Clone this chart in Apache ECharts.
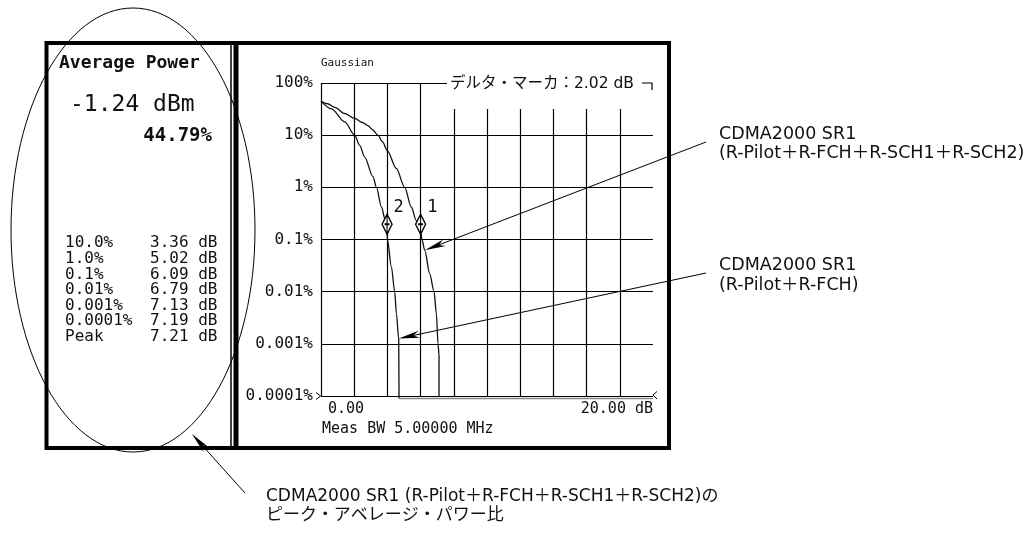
<!DOCTYPE html>
<html>
<head>
<meta charset="utf-8">
<title>CCDF</title>
<script src="https://cdn.jsdelivr.net/npm/echarts@6/dist/echarts.min.js"></script>
<style>
html, body { margin: 0; padding: 0; background: #fff; }
#chart { width: 1026px; height: 537px; }
</style>
</head>
<body>
<div id="chart"></div>
<script>
// 目盛りラベル
var xTickLabels = ['0.00', '20.00 dB'];
var yTickLabels = ['0.0001%', '0.001%', '0.01%', '0.1%', '1%', '10%', '100%'];

// CCDF [dB, %]  R-Pilot+R-FCH+R-SCH1+R-SCH2
var fullCurve = [[0, 45], [0.4, 40], [0.83, 34], [1.43, 26], [2.03, 21], [2.5, 17.5], [2.83, 15.2],
  [3.1, 12.8], [3.43, 10], [3.7, 7.5], [4.0, 5], [4.54, 2.3], [5.04, 1], [5.44, 0.42], [5.74, 0.23],
  [6.0, 0.15], [6.08, 0.1], [6.25, 0.062], [6.55, 0.022], [6.81, 0.01], [6.95, 0.0038],
  [7.05, 0.001], [7.11, 0.0006], [7.11, 0.0001]];
// CCDF [dB, %]  R-Pilot+R-FCH
var pilotCurve = [[0, 45], [0.63, 32], [1.43, 18], [2.03, 10], [2.33, 6.4], [2.63, 3.8], [3.13, 1.6],
  [3.34, 1], [3.64, 0.42], [3.88, 0.23], [3.98, 0.15], [4.0, 0.1], [4.24, 0.03], [4.44, 0.01],
  [4.54, 0.0038], [4.68, 0.00126], [4.7, 0.00009]];
var floorLine = [[4.7, 0.00009], [20, 0.00009]];
// マーカー
var markerPoints = [{ name: '2', value: [3.98, 0.196] }, { name: '1', value: [6.0, 0.196] }];
// 矢印の先
var arrowTargets = [[6.25, 0.062], [4.68, 0.00126]];

// 左パネルの表
var avgPower = '-1.24 dBm';
var avgPct = '44.79%';
var probLabels = ['10.0%', '1.0%', '0.1%', '0.01%', '0.001%', '0.0001%', 'Peak'];
var probValues = ['3.36 dB', '5.02 dB', '6.09 dB', '6.79 dB', '7.13 dB', '7.19 dB', '7.21 dB'];

var MONO = '"DejaVu Sans Mono", "Liberation Mono", monospace';
var JP = '"DejaVu Sans", "Noto Sans CJK JP", sans-serif';

var chart = echarts.init(document.getElementById('chart'));

var option = {
  animation: false,
  backgroundColor: '#fff',
  grid: { left: 321, top: 83, width: 332, height: 313 },
  xAxis: {
    type: 'value', min: 0, max: 20, interval: 2,
    axisLine: { show: false }, axisTick: { show: false },
    splitLine: { show: true, showMaxLine: false, lineStyle: { color: '#000', width: 1.2 } },
    axisLabel: {
      margin: 6, color: '#111', fontFamily: MONO, fontSize: 15,
      alignMinLabel: 'left', alignMaxLabel: 'right',
      padding: [0, 0, 0, 7],
      formatter: function (v) {
        if (v === 0) return xTickLabels[0];
        if (v === 20) return xTickLabels[1];
        return '';
      }
    }
  },
  yAxis: {
    type: 'log', logBase: 10, min: 0.0001, max: 100, splitNumber: 6,
    axisLine: { show: false }, axisTick: { show: false },
    splitLine: { show: true, lineStyle: { color: '#000', width: 1.2 } },
    axisLabel: {
      margin: 8, color: '#111', fontFamily: MONO, fontSize: 16,
      formatter: function (v) {
        return yTickLabels[Math.round(Math.log10(v)) + 4] || '';
      }
    }
  },
  series: [
    {
      type: 'line', data: fullCurve, showSymbol: false, clip: false, silent: true,
      smooth: 0.3, smoothMonotone: 'x',
      lineStyle: { color: '#111', width: 1.3 }, z: 3
    },
    {
      type: 'line', data: pilotCurve, showSymbol: false, clip: false, silent: true,
      smooth: 0.3, smoothMonotone: 'x',
      lineStyle: { color: '#111', width: 1.3 }, z: 3
    },
    {
      type: 'line', data: floorLine, showSymbol: false, clip: false, silent: true,
      lineStyle: { color: '#888', width: 1.5 }, z: 3
    },
    {
      type: 'scatter', data: markerPoints, silent: true, clip: false,
      symbol: 'path://M4,0 L8,9 L4,18 L0,9 Z M4,0 L4,18 M2,9 L6,9',
      symbolSize: [10, 20],
      itemStyle: { color: '#fff', borderColor: '#000', borderWidth: 1.5, opacity: 1 },
      label: {
        show: true, position: 'right', distance: 1, offset: [0, -17],
        formatter: '{b}', fontFamily: MONO, fontSize: 17, color: '#111'
      },
      z: 5
    }
  ]
};
chart.setOption(option);

function txt(text, x, y, size, opts) {
  opts = opts || {};
  return {
    type: 'text', x: x, y: y, z: 30,
    style: {
      text: text, fill: '#111',
      fontFamily: opts.family || MONO, fontSize: size,
      fontWeight: opts.weight || 'normal',
      align: opts.align || 'left', verticalAlign: 'middle',
      lineHeight: opts.lineHeight
    }
  };
}

function arrow(x1, y1, x2, y2) {
  var dx = x2 - x1, dy = y2 - y1, len = Math.sqrt(dx * dx + dy * dy);
  var ux = dx / len, uy = dy / len, px = -uy, py = ux;
  var L = 21, W = 3.5, N = 15;
  var bx = x2 - ux * L, by = y2 - uy * L, nx = x2 - ux * N, ny = y2 - uy * N;
  return [
    { type: 'line', z: 20, shape: { x1: x1, y1: y1, x2: nx, y2: ny }, style: { stroke: '#000', lineWidth: 1 } },
    { type: 'polygon', z: 20, shape: { points: [[x2, y2], [bx + px * W, by + py * W], [nx, ny], [bx - px * W, by - py * W]] }, style: { fill: '#000' } }
  ];
}

var g = [];
// 枠
g.push({ type: 'rect', z: 10, shape: { x: 46.5, y: 43, width: 622.5, height: 405 }, style: { fill: 'none', stroke: '#000', lineWidth: 4 } });
g.push({ type: 'line', z: 10, shape: { x1: 231, y1: 43, x2: 231, y2: 448 }, style: { stroke: '#000', lineWidth: 1.5 } });
g.push({ type: 'line', z: 10, shape: { x1: 236, y1: 43, x2: 236, y2: 448 }, style: { stroke: '#000', lineWidth: 5 } });

// 左パネル
g.push(txt('Average Power', 59, 63, 18, { weight: 'bold' }));
g.push(txt(avgPower, 70, 105, 23));
g.push(txt(avgPct, 212, 136, 19, { weight: 'bold', align: 'right' }));
for (var i = 0; i < probLabels.length; i++) {
  var yy = 243.3 + i * 15.57;
  g.push(txt(probLabels[i], 65, yy, 16));
  g.push(txt(probValues[i], 150, yy, 16));
}

// 右パネル
g.push(txt('Gaussian', 321, 63, 11));
g.push(txt('Meas BW 5.00000 MHz', 322, 429, 15));
g.push({ type: 'rect', z: 25, shape: { x: 447, y: 74, width: 210, height: 35 }, style: { fill: '#fff' } });
g.push(txt('デルタ・マーカ：2.02 dB', 450, 83.5, 15.5, { family: JP }));
g.push({ type: 'polyline', z: 26, shape: { points: [[642, 83], [652, 83], [652, 90]] }, style: { stroke: '#000', lineWidth: 1.2, fill: 'none' } });
g.push({ type: 'polyline', z: 26, shape: { points: [[316, 392.5], [320.5, 396], [316, 399.5]] }, style: { stroke: '#000', lineWidth: 1, fill: 'none' } });
g.push({ type: 'polyline', z: 26, shape: { points: [[657, 391.5], [653, 395], [657, 399]] }, style: { stroke: '#000', lineWidth: 1, fill: 'none' } });

// 楕円
g.push({ type: 'ellipse', z: 40, shape: { cx: 133, cy: 230, rx: 122, ry: 222 }, style: { fill: 'none', stroke: '#000', lineWidth: 1 } });

// 注釈
g.push(txt('CDMA2000 SR1\n(R-Pilot＋R-FCH＋R-SCH1＋R-SCH2)', 719, 144, 17.5, { family: JP, lineHeight: 19 }));
g.push(txt('CDMA2000 SR1\n(R-Pilot＋R-FCH)', 719, 275, 17.5, { family: JP, lineHeight: 20 }));
g.push(txt('CDMA2000 SR1 (R-Pilot＋R-FCH＋R-SCH1＋R-SCH2)の\nピーク・アベレージ・パワー比', 266, 506, 17, { family: JP, lineHeight: 19 }));

var t1 = chart.convertToPixel({ gridIndex: 0 }, arrowTargets[0]);
var t2 = chart.convertToPixel({ gridIndex: 0 }, arrowTargets[1]);
g = g.concat(arrow(706, 142, t1[0], t1[1]));
g = g.concat(arrow(706, 273, t2[0], t2[1]));
g = g.concat(arrow(245, 493, 192, 434));

chart.setOption({ graphic: g });
</script>
</body>
</html>
